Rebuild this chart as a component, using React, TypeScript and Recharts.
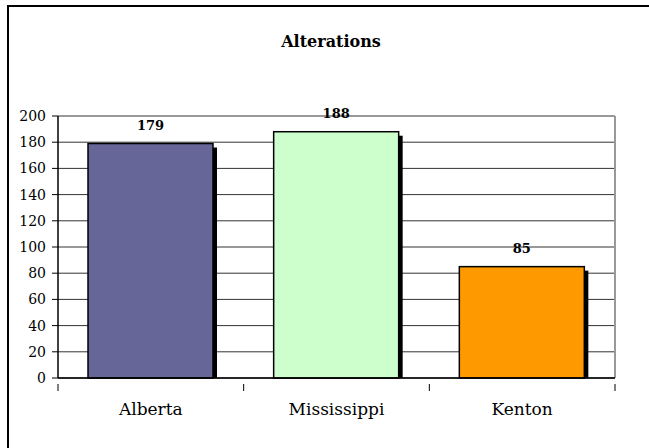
import { BarChart, Bar, XAxis, YAxis, CartesianGrid, Cell, LabelList, ReferenceLine } from "recharts"

// ============================================================
// Data
// ============================================================

const regions = ["Alberta", "Mississippi", "Kenton"]
const alterations = [179, 188, 85]
const barColors = ["#666699", "#CCFFCC", "#FF9900"]
const yTicks = [0, 20, 40, 60, 80, 100, 120, 140, 160, 180, 200]

const chartData = regions.map((name, i) => ({ name, value: alterations[i] }))

const serif = "'DejaVu Serif', 'Liberation Serif', serif"

// bar with the black drop shadow offset to the lower right
function ShadowBar(props: any) {
  const { x, y, width, height, fill } = props
  if (!height || height <= 0) return null
  return (
    <g>
      <rect x={x + 4} y={y + 4} width={width} height={Math.max(height - 4, 0)} fill="#000" />
      <rect x={x} y={y} width={width} height={height} fill={fill} stroke="#000" strokeWidth={1.5} />
    </g>
  )
}

// category label plus the tick marks that sit on the category boundaries
function CategoryTick(props: any) {
  const { x, y, payload, index, visibleTicksCount } = props
  const half = payload?.offset ?? 0
  const axisY = y - 19
  const last = index === (visibleTicksCount ?? regions.length) - 1
  return (
    <g>
      <line x1={x - half} x2={x - half} y1={axisY} y2={axisY + 7} stroke="#000" />
      {last && <line x1={x + half} x2={x + half} y1={axisY} y2={axisY + 7} stroke="#000" />}
      <text x={x} y={y} dy="0.71em" textAnchor="middle" fill="#000" fontSize={17} fontFamily={serif}>
        {payload.value}
      </text>
    </g>
  )
}

// right-hand edge of the plot area
const rightEdge = ({ offset }: any) => [offset.left + offset.width]

export default function App() {
  return (
    <div
      style={{
        position: "fixed",
        left: 0,
        top: 0,
        width: 649,
        height: 448,
        overflow: "hidden",
        background: "#fff",
        fontFamily: serif,
      }}
    >
      <div
        style={{
          position: "absolute",
          left: 7,
          top: 5,
          width: 800,
          height: 800,
          border: "2px solid #000",
        }}
      />
      <div
        style={{
          position: "absolute",
          left: 0,
          width: 662,
          top: 32,
          textAlign: "center",
          fontWeight: "bold",
          fontSize: 16,
          color: "#000",
        }}
      >
        Alterations
      </div>
      <BarChart
        width={649}
        height={448}
        data={chartData}
        margin={{ top: 116, right: 34, left: 8, bottom: 40 }}
        style={{ position: "absolute", left: 0, top: 0 }}
      >
        <CartesianGrid vertical={false} stroke="#333" strokeWidth={1} />
        <CartesianGrid
          horizontal={false}
          verticalCoordinatesGenerator={rightEdge}
          stroke="#999"
          strokeWidth={2}
        />
        <XAxis
          dataKey="name"
          height={30}
          tickLine={false}
          tickMargin={19}
          axisLine={{ stroke: "#000", strokeWidth: 1.5 }}
          tick={CategoryTick}
        />
        <YAxis
          domain={[0, 200]}
          ticks={yTicks}
          width={50}
          interval={0}
          tickSize={6}
          tickMargin={6}
          axisLine={{ stroke: "#000", strokeWidth: 1.5 }}
          tickLine={{ stroke: "#000" }}
          tick={{ fill: "#000", fontSize: 14, fontFamily: serif }}
        />
        <ReferenceLine y={200} stroke="#999" strokeWidth={2} ifOverflow="visible" />
        <Bar dataKey="value" barSize={125} shape={ShadowBar} isAnimationActive={false}>
          {chartData.map((d, i) => (
            <Cell key={d.name} fill={barColors[i]} />
          ))}
          <LabelList
            dataKey="value"
            position="top"
            offset={14}
            style={{ fill: "#000", fontWeight: "bold", fontSize: 13, fontFamily: serif }}
          />
        </Bar>
      </BarChart>
    </div>
  )
}
